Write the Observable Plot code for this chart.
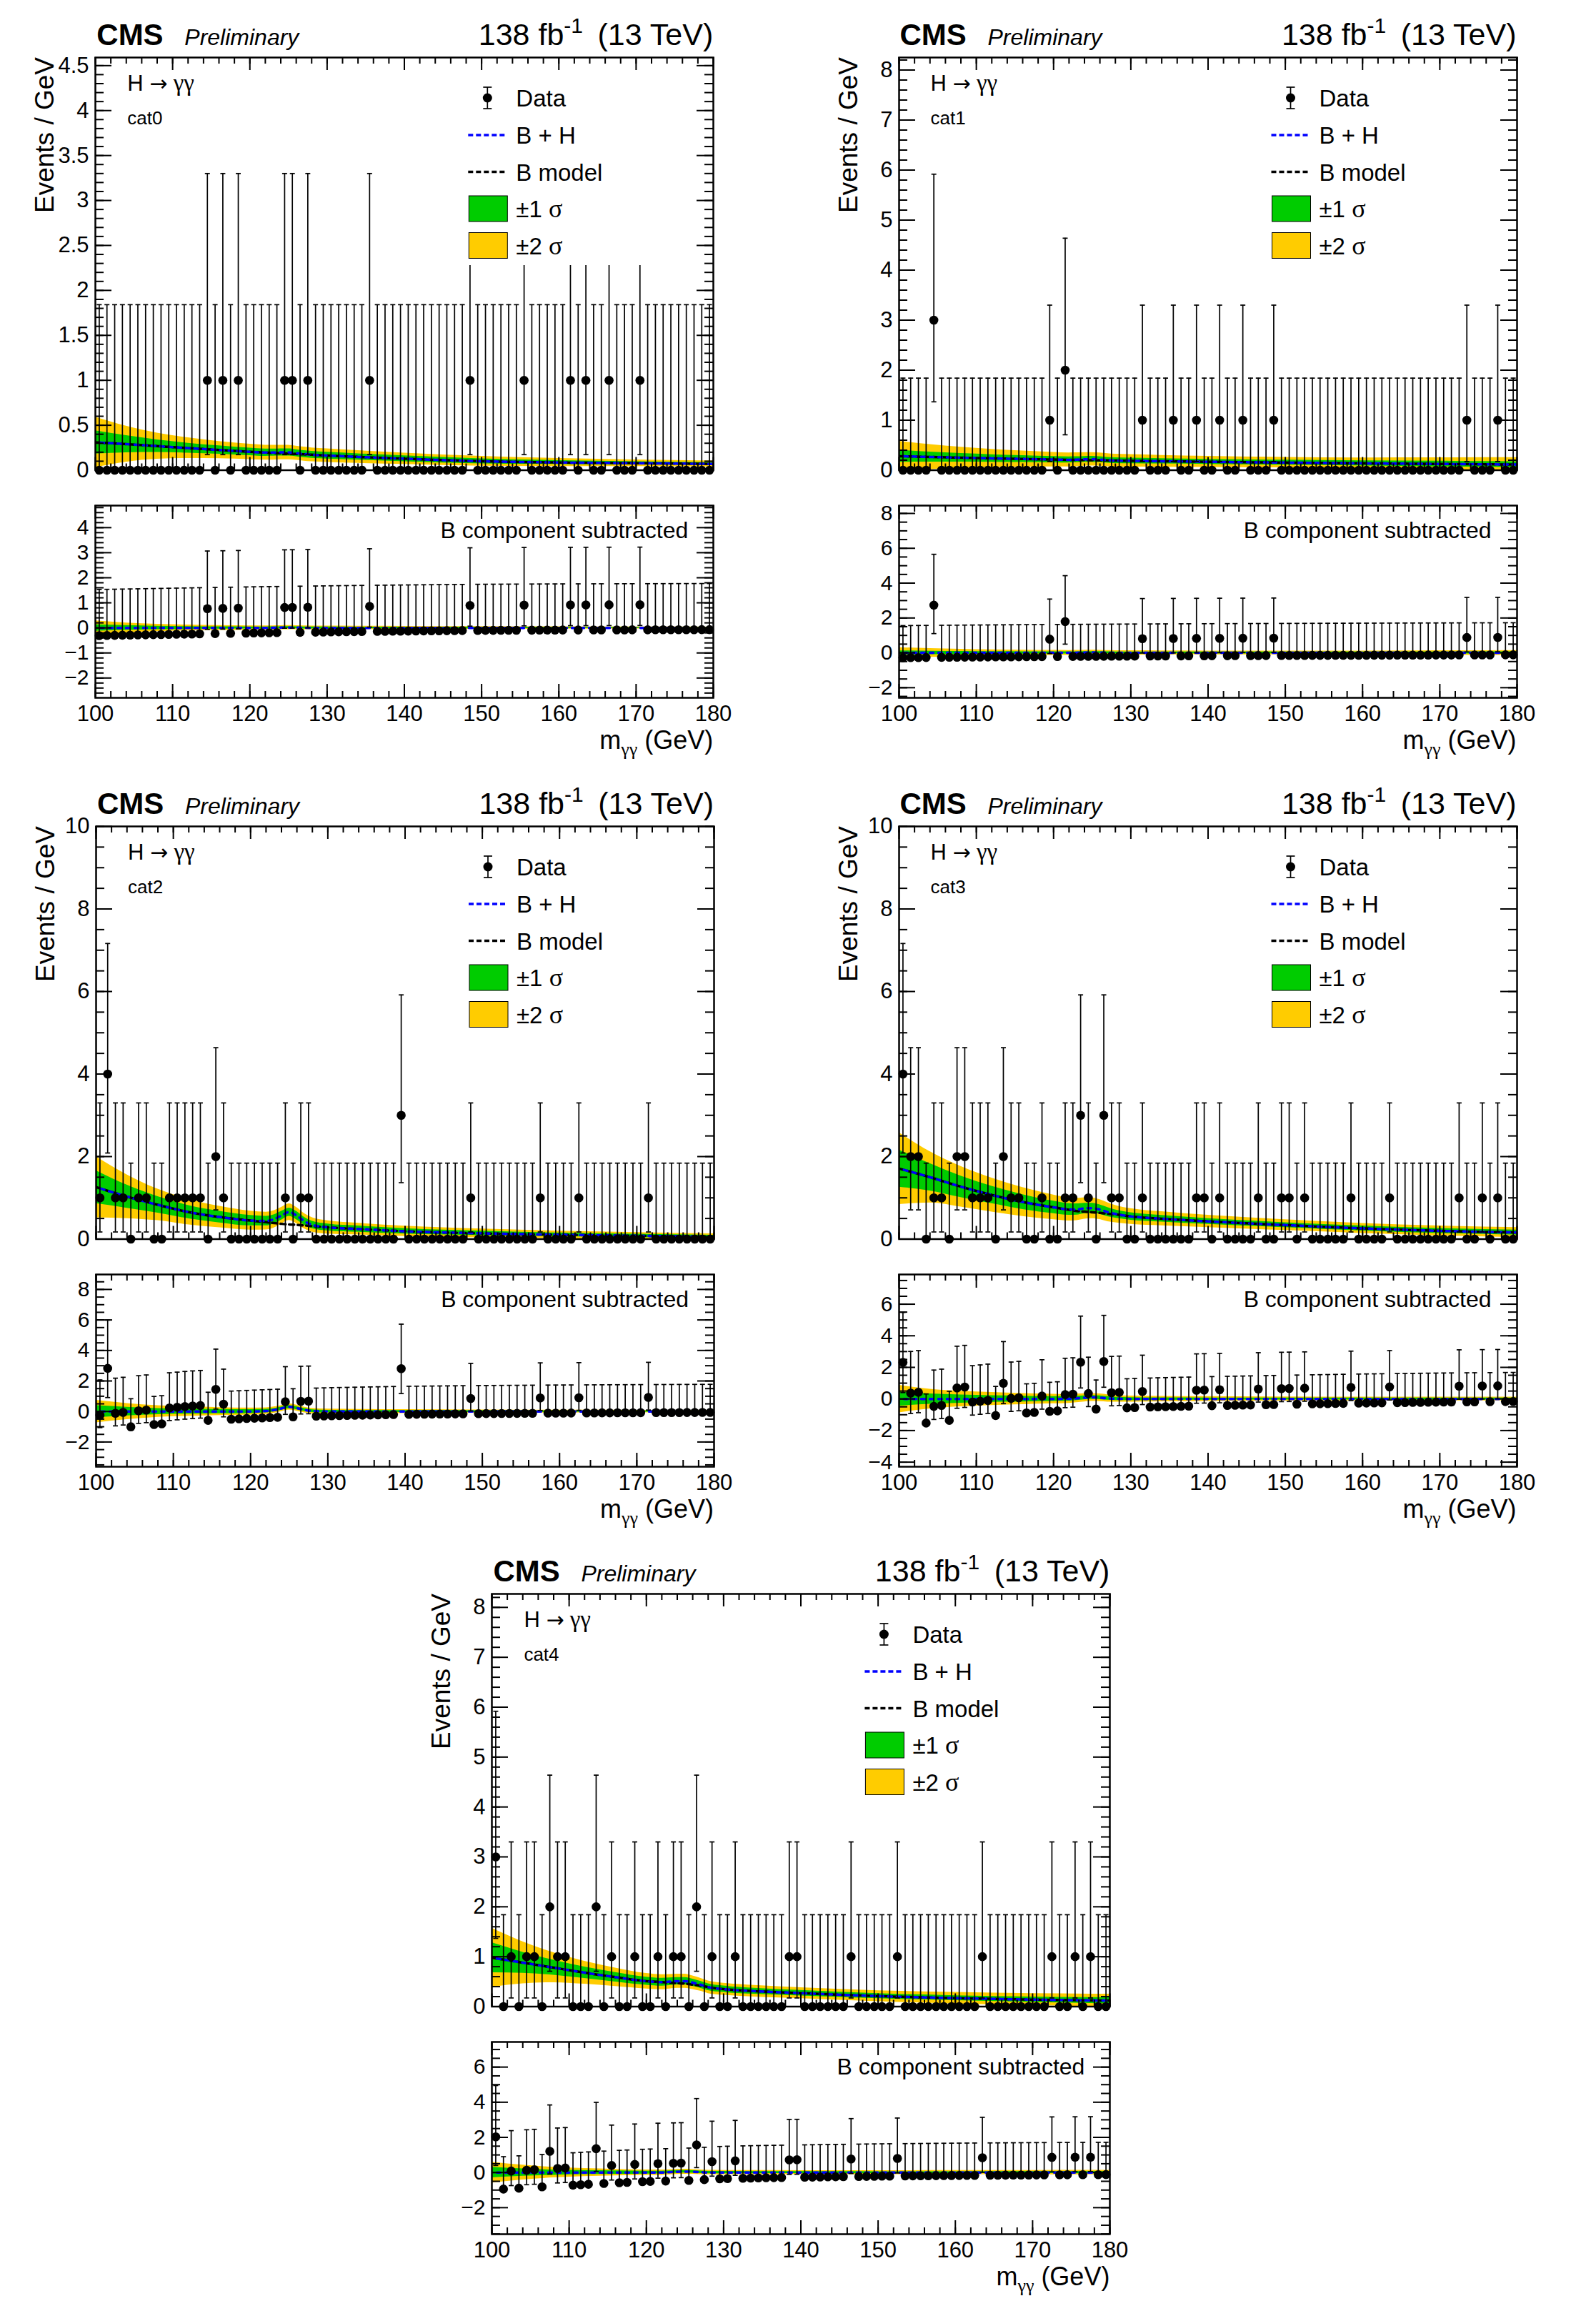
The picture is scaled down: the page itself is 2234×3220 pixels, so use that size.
<!DOCTYPE html>
<html><head><meta charset="utf-8">
<script src="https://cdn.jsdelivr.net/npm/d3@7"></script>
<script src="https://cdn.jsdelivr.net/npm/@observablehq/plot@0.6"></script>
<style>
body{margin:0;background:#fff;}
#page{position:relative;width:2234px;height:3220px;background:#fff;overflow:hidden;}
#page svg{position:absolute;}
</style></head>
<body><div id="page"></div>
<script>
// ---------------- data ----------------
const categories = ["cat0", "cat1", "cat2", "cat3", "cat4"];
const binCenters = d3.range(100.5, 180, 1); // 80 bins of 1 GeV

const counts_cat0 = [0,0,0,0,0,0,0,0,0,0, 0,0,0,0,1,0,1,0,1,0, 0,0,0,0,1,1,0,1,0,0, 0,0,0,0,0,1,0,0,0,0,
                     0,0,0,0,0,0,0,0,1,0, 0,0,0,0,0,1,0,0,0,0, 0,1,0,1,0,0,1,0,0,0, 1,0,0,0,0,0,0,0,0,0];
const counts_cat1 = [0,0,0,0,3,0,0,0,0,0, 0,0,0,0,0,0,0,0,0,1, 0,2,0,0,0,0,0,0,0,0, 0,1,0,0,0,1,0,0,1,0,
                     0,1,0,0,1,0,0,0,1,0, 0,0,0,0,0,0,0,0,0,0, 0,0,0,0,0,0,0,0,0,0, 0,0,0,1,0,0,0,1,0,0];
const counts_cat2 = [1,4,1,1,0,1,1,0,0,1, 1,1,1,1,0,2,1,0,0,0, 0,0,0,0,1,0,1,1,0,0, 0,0,0,0,0,0,0,0,0,3,
                     0,0,0,0,0,0,0,0,1,0, 0,0,0,0,0,0,0,1,0,0, 0,0,1,0,0,0,0,0,0,0, 0,1,0,0,0,0,0,0,0,0];
const counts_cat3 = [4,2,2,0,1,1,0,2,2,1, 1,1,0,2,1,1,0,0,1,0, 0,1,1,3,1,0,3,1,1,0, 0,1,0,0,0,0,0,0,1,1,
                     0,1,0,0,0,0,1,0,0,1, 1,0,1,0,0,0,0,0,1,0, 0,0,0,1,0,0,0,0,0,0, 0,0,1,0,0,1,0,1,0,0];
const counts_cat4 = [3,0,1,0,1,1,0,2,1,1, 0,0,0,2,0,1,0,0,1,0, 0,1,0,1,1,0,2,0,1,0, 0,1,0,0,0,0,0,0,1,1,
                     0,0,0,0,0,0,1,0,0,0, 0,0,1,0,0,0,0,0,0,0, 0,0,0,1,0,0,0,0,0,0, 0,0,1,0,0,1,0,1,0,0];

// Poisson (Garwood) interval edges indexed by count
const poissonLo = [0, 0.173, 0.708, 1.367, 2.086];
const poissonHi = [1.841, 3.300, 4.638, 5.918, 7.163];

// model curves read at these masses
const knotMass = [100,104,108,112,116,120,122,123,124,125,126,127,128,130,134,140,150,160,170,180];

const bkg_cat0 = [.31,.29,.268,.246,.225,.205,.196,.192,.188,.184,.18,.176,.172,.163,.148,.128,.1,.086,.078,.07];
const sig_cat0 = [0,0,0,0,0,0,0,.004,.01,.014,.01,.004,0,0,0,0,0,0,0,0];
const err1_cat0 = [.13,.095,.07,.055,.047,.042,.041,.04,.04,.04,.039,.039,.038,.037,.035,.032,.028,.022,.018,.015];
const err2_cat0 = [.28,.2,.145,.115,.095,.085,.083,.082,.081,.08,.079,.078,.077,.075,.07,.063,.055,.045,.037,.033];

const bkg_cat1 = [.28,.265,.25,.237,.225,.213,.208,.205,.203,.2,.198,.195,.193,.188,.18,.168,.152,.138,.125,.113];
const sig_cat1 = [0,0,0,0,0,0,0,.006,.015,.02,.015,.006,0,0,0,0,0,0,0,0];
const err1_cat1 = [.12,.1,.085,.075,.068,.062,.06,.059,.058,.058,.057,.057,.056,.055,.053,.05,.05,.052,.056,.06];
const err2_cat1 = [.3,.25,.21,.18,.16,.145,.14,.138,.136,.134,.132,.13,.128,.125,.118,.11,.105,.11,.125,.14];

const bkg_cat2 = [1.26,1.03,.83,.655,.535,.45,.41,.39,.37,.355,.345,.33,.315,.285,.245,.19,.14,.105,.08,.06];
const sig_cat2 = [0,0,0,0,0,0,.03,.09,.2,.3,.22,.1,.03,0,0,0,0,0,0,0];
const err1_cat2 = [.4,.28,.2,.16,.14,.125,.115,.11,.105,.1,.1,.095,.09,.085,.075,.065,.055,.045,.04,.035];
const err2_cat2 = [.74,.53,.38,.31,.26,.23,.215,.21,.2,.2,.195,.185,.175,.16,.14,.125,.105,.09,.08,.07];

const bkg_cat3 = [1.71,1.5,1.27,1.07,.9,.77,.71,.68,.665,.65,.635,.615,.6,.55,.495,.43,.34,.26,.2,.16];
const sig_cat3 = [0,0,0,0,0,0,.01,.04,.08,.1,.08,.04,.01,0,0,0,0,0,0,0];
const err1_cat3 = [.45,.33,.26,.21,.18,.15,.14,.135,.125,.12,.115,.11,.1,.09,.08,.07,.06,.06,.06,.06];
const err2_cat3 = [.87,.62,.49,.41,.35,.3,.28,.27,.26,.25,.24,.23,.21,.19,.17,.15,.13,.12,.12,.12];

const bkg_cat4 = [.98,.88,.78,.68,.59,.51,.49,.48,.47,.46,.44,.42,.39,.35,.31,.27,.21,.17,.14,.12];
const sig_cat4 = [0,0,0,0,0,0,0,.02,.04,.05,.04,.02,0,0,0,0,0,0,0,0];
const err1_cat4 = [.3,.21,.15,.115,.095,.08,.078,.076,.075,.074,.072,.07,.068,.065,.06,.055,.05,.05,.055,.06];
const err2_cat4 = [.59,.42,.3,.23,.185,.155,.15,.145,.142,.14,.135,.13,.127,.12,.115,.11,.11,.115,.12,.13];

// axes
const xMajorStep = 10, xMinorStep = 2;
const mainYMax = [4.59, 8.25, 10, 10, 8.27];
const mainYMajor = [0.5, 1, 2, 2, 1];
const mainYMinor = [0.1, 0.2, 0.5, 0.5, 0.2];
const ratioYMin = [-2.79, -2.58, -3.62, -4.29, -3.51];
const ratioYMax = [4.88, 8.45, 8.98, 7.88, 7.43];
const ratioYMajor = [1, 2, 2, 2, 2];
const ratioYMinor = [0.2, 0.5, 0.5, 0.5, 0.5];

const legendLabels = [["Data"], ["B + H"], ["B model"], ["\u00b11 ", "\u03c3"], ["\u00b12 ", "\u03c3"]];
const ratioLabel = "B component subtracted";
const yTitle = "Events / GeV";

const countsList = [counts_cat0, counts_cat1, counts_cat2, counts_cat3, counts_cat4];
const bkgList = [bkg_cat0, bkg_cat1, bkg_cat2, bkg_cat3, bkg_cat4];
const sigList = [sig_cat0, sig_cat1, sig_cat2, sig_cat3, sig_cat4];
const err1List = [err1_cat0, err1_cat1, err1_cat2, err1_cat3, err1_cat4];
const err2List = [err2_cat0, err2_cat1, err2_cat2, err2_cat3, err2_cat4];

// ---------------- layout ----------------
const panelLeft = [133.3, 1257.5, 134, 1257.5, 688.4];
const panelTop = [80, 80, 1156, 1156, 2230];
const W = 865, H = 577.5, GAP = 49, HR = 269;
const ML = 160, MR = 14, MT = 14, MB = 14, RMB = 60;
const FONT = '"Liberation Sans", Arial, Helvetica, sans-serif';
const SERIF = '"Liberation Serif", "DejaVu Serif", serif';
const YEL = "#ffcc00", GRN = "#00cc00", BLUE = "#0000ff";

const cap = {draw(ctx, size) { const r = Math.sqrt(size / Math.PI); ctx.moveTo(-r, 0); ctx.lineTo(r, 0); }};
const fmt = d => d < 0 ? "\u2212" + Math.abs(d) : String(d);
function tickList(lo, hi, step) {
  const a = [];
  for (let k = Math.ceil(lo / step - 1e-6); k * step <= hi + 1e-6; k++) a.push(+(k * step).toFixed(6));
  return a;
}
function lerpKnots(xs, ys, x) {
  let i = d3.bisectRight(xs, x) - 1;
  i = Math.max(0, Math.min(xs.length - 2, i));
  const t = (x - xs[i]) / (xs[i + 1] - xs[i]);
  return ys[i] + t * (ys[i + 1] - ys[i]);
}
function tickMarks(xMaj, xMin, yMaj, yMin, h, xLen, xMinLen) {
  const sw = 2;
  return [
    Plot.tickY(yMaj, {y: d => d, insetRight: W - 23, strokeWidth: sw}),
    Plot.tickY(yMaj, {y: d => d, insetLeft: W - 23, strokeWidth: sw}),
    Plot.tickY(yMin, {y: d => d, insetRight: W - 12, strokeWidth: sw}),
    Plot.tickY(yMin, {y: d => d, insetLeft: W - 12, strokeWidth: sw}),
    Plot.tickX(xMaj, {x: d => d, insetTop: h - xLen, strokeWidth: sw}),
    Plot.tickX(xMaj, {x: d => d, insetBottom: h - xLen, strokeWidth: sw}),
    Plot.tickX(xMin, {x: d => d, insetTop: h - xMinLen, strokeWidth: sw}),
    Plot.tickX(xMin, {x: d => d, insetBottom: h - xMinLen, strokeWidth: sw})
  ];
}
function dataMarks(pts) {
  return [
    Plot.ruleX(pts, {x: "m", y1: "lo", y2: "hi", stroke: "black", strokeWidth: 1.7}),
    Plot.dot(pts, {x: "m", y: "hi", symbol: cap, r: 3.5, stroke: "black", strokeWidth: 1.7, fill: "none"}),
    Plot.dot(pts.filter(d => d.n > 0), {x: "m", y: "lo", symbol: cap, r: 3.5, stroke: "black", strokeWidth: 1.7, fill: "none"}),
    Plot.dot(pts, {x: "m", y: "v", r: 6.3, fill: "black", stroke: "none"})
  ];
}
function curveMarks(curve, center, line1, line2) {
  return [
    Plot.areaY(curve, {x: "m", y1: d => center(d) - d.e2, y2: d => center(d) + d.e2, fill: YEL, curve: "monotone-x", clip: true}),
    Plot.areaY(curve, {x: "m", y1: d => center(d) - d.e1, y2: d => center(d) + d.e1, fill: GRN, curve: "monotone-x", clip: true}),
    ...(line1 ? [Plot.line(curve, {x: "m", y: line1, stroke: "black", strokeWidth: 3.5, strokeDasharray: "7,5", curve: "monotone-x", clip: true})] : []),
    Plot.line(curve, {x: "m", y: line2, stroke: BLUE, strokeWidth: 3.5, strokeDasharray: "5,7", strokeDashoffset: -7, curve: "monotone-x", clip: true})
  ];
}

const page = document.getElementById("page");
const xMaj = tickList(100, 180, xMajorStep), xMin = tickList(100, 180, xMinorStep);

categories.forEach((cat, ci) => {
  const L = panelLeft[ci], T = panelTop[ci];
  const counts = countsList[ci], bkg = bkgList[ci], sig = sigList[ci];
  const curve = knotMass.map((m, k) => ({m, b: bkg[k], s: sig[k], e1: err1List[ci][k], e2: err2List[ci][k]}));
  const pts = binCenters.map((m, i) => ({m, n: counts[i], v: counts[i], lo: poissonLo[counts[i]], hi: poissonHi[counts[i]]}));
  const rpts = pts.map(d => { const b = lerpKnots(knotMass, bkg, d.m); return {m: d.m, n: d.n, v: d.n - b, lo: d.lo - b, hi: d.hi - b}; });

  // main panel
  const yMaj = tickList(0, mainYMax[ci], mainYMajor[ci]);
  const yMin = tickList(0, mainYMax[ci], mainYMinor[ci]);
  const main = Plot.plot({
    width: W + ML + MR, height: H + MT + MB,
    marginLeft: ML, marginRight: MR, marginTop: MT, marginBottom: MB,
    style: {fontFamily: FONT, color: "black", background: "none", overflow: "visible"},
    x: {domain: [100, 180], axis: null},
    y: {domain: [0, mainYMax[ci]], axis: null},
    marks: [
      ...curveMarks(curve, d => d.b + d.s, "b", d => d.b + d.s),
      Plot.frame({stroke: "black", strokeWidth: 2.5}),
      ...tickMarks(xMaj, xMin, yMaj, yMin, H, 18, 9),
      Plot.axisY(yMaj, {anchor: "left", tickSize: 0, tickPadding: 9, fontSize: 31, tickFormat: fmt, label: null}),
      ...dataMarks(pts)
    ]
  });
  main.style.left = (L - ML) + "px";
  main.style.top = (T - MT) + "px";
  page.appendChild(main);

  // ratio panel
  const RT = T + H + GAP;
  const rMaj = tickList(ratioYMin[ci], ratioYMax[ci], ratioYMajor[ci]);
  const rMin = tickList(ratioYMin[ci], ratioYMax[ci], ratioYMinor[ci]);
  const ratio = Plot.plot({
    width: W + ML + MR, height: HR + MT + RMB,
    marginLeft: ML, marginRight: MR, marginTop: MT, marginBottom: RMB,
    style: {fontFamily: FONT, color: "black", background: "none", overflow: "visible"},
    x: {domain: [100, 180]},
    y: {domain: [ratioYMin[ci], ratioYMax[ci]]},
    marks: [
      ...curveMarks(curve, d => d.s, null, d => d.s),
      Plot.frame({stroke: "black", strokeWidth: 2.5}),
      ...tickMarks(xMaj, xMin, rMaj, rMin, HR, 19, 9),
      Plot.axisY(rMaj, {anchor: "left", tickSize: 0, tickPadding: 9, fontSize: 30, tickFormat: fmt, label: null}),
      Plot.axisX(xMaj, {anchor: "bottom", tickSize: 0, tickPadding: 10, fontSize: 31, tickFormat: fmt, label: null}),
      ...dataMarks(rpts)
    ]
  });
  ratio.style.left = (L - ML) + "px";
  ratio.style.top = (RT - MT) + "px";
  page.appendChild(ratio);
});

// ---------------- annotations overlay ----------------
const ov = d3.create("svg").attr("width", 2234).attr("height", 3220)
  .style("left", "0px").style("top", "0px").style("font-family", FONT);
categories.forEach((cat, ci) => {
  const L = panelLeft[ci], T = panelTop[ci], RT = T + H + GAP;
  const g = ov.append("g");
  g.append("text").attr("x", L + 2).attr("y", T - 17).style("font-size", "42px").style("font-weight", "bold").text("CMS");
  g.append("text").attr("x", L + 125).attr("y", T - 17).style("font-size", "32px").style("font-style", "italic").text("Preliminary");
  const lumi = g.append("text").attr("x", L + W).attr("y", T - 17).attr("text-anchor", "end").style("font-size", "43px");
  lumi.append("tspan").text("138 fb");
  lumi.append("tspan").attr("dy", -17).style("font-size", "30px").text("-1");
  lumi.append("tspan").attr("dy", 17).text("\u2009 (13 TeV)");
  const hg = g.append("text").attr("x", L + 45).attr("y", T + 47).style("font-size", "31px");
  hg.append("tspan").text("H ");
  hg.append("tspan").style("font-family", '"DejaVu Sans", sans-serif').style("font-size", "30px").text("\u2192");
  hg.append("tspan").style("font-family", SERIF).style("font-size", "33px").text(" \u03b3\u03b3");
  g.append("text").attr("x", L + 45).attr("y", T + 94).style("font-size", "26px").text(cat);
  g.append("text").attr("transform", `translate(${L - 58},${T}) rotate(-90)`).attr("text-anchor", "end")
    .style("font-size", "37px").text(yTitle);
  const xt = g.append("text").attr("x", L + W).attr("y", RT + HR + 72).attr("text-anchor", "end").style("font-size", "36px");
  xt.append("tspan").text("m");
  xt.append("tspan").attr("dy", 9).style("font-size", "26px").style("font-family", SERIF).text("\u03b3\u03b3");
  xt.append("tspan").attr("dy", -9).text(" (GeV)");
  g.append("text").attr("x", L + 830).attr("y", RT + 46).attr("text-anchor", "end").style("font-size", "32px").text(ratioLabel);

  // legend
  g.append("rect").attr("x", L + 505).attr("y", T + 28).attr("width", 295).attr("height", 263).attr("fill", "white");
  const rows = [57, 109, 160.5, 212, 263.5].map(v => T + v);
  const mx = L + 549;
  g.append("line").attr("x1", mx).attr("x2", mx).attr("y1", rows[0] - 15).attr("y2", rows[0] + 15).attr("stroke", "black").attr("stroke-width", 1.7);
  [rows[0] - 15, rows[0] + 15].forEach(y => g.append("line").attr("x1", mx - 6).attr("x2", mx + 6).attr("y1", y).attr("y2", y).attr("stroke", "black").attr("stroke-width", 1.7));
  g.append("circle").attr("cx", mx).attr("cy", rows[0]).attr("r", 6.5).attr("fill", "black");
  g.append("line").attr("x1", L + 522).attr("x2", L + 575).attr("y1", rows[1]).attr("y2", rows[1]).attr("stroke", BLUE).attr("stroke-width", 3.5).attr("stroke-dasharray", "7,4");
  g.append("line").attr("x1", L + 522).attr("x2", L + 575).attr("y1", rows[2]).attr("y2", rows[2]).attr("stroke", "black").attr("stroke-width", 3.5).attr("stroke-dasharray", "7,4");
  g.append("rect").attr("x", L + 523).attr("y", rows[3] - 18).attr("width", 54).attr("height", 36).attr("fill", GRN).attr("stroke", "black").attr("stroke-width", 1);
  g.append("rect").attr("x", L + 523).attr("y", rows[4] - 18).attr("width", 54).attr("height", 36).attr("fill", YEL).attr("stroke", "black").attr("stroke-width", 1);
  legendLabels.forEach((parts, k) => {
    const t = g.append("text").attr("x", L + 589).attr("y", rows[k] + 12).style("font-size", "33px");
    t.append("tspan").text(parts[0]);
    if (parts[1]) t.append("tspan").style("font-family", SERIF).style("font-size", "36px").text(parts[1]);
  });
});
page.appendChild(ov.node());
</script>
</body></html>
